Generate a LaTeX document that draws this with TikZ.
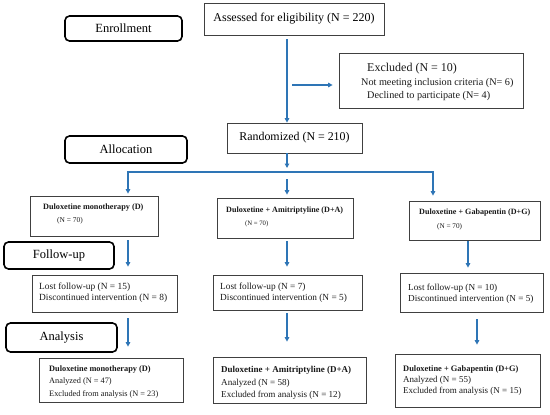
\documentclass[tikz,border=0pt]{standalone}
\usepackage{fontspec}
\setmainfont{Liberation Serif}
\usetikzlibrary{arrows.meta}
\definecolor{flowblue}{RGB}{46,117,182}
\newcommand{\fsz}[1]{\fontsize{#1}{#1}\selectfont}
\begin{document}
\begin{tikzpicture}[x=1pt,y=-1pt,
  box/.style={draw=black!75, line width=0.7pt, inner sep=0pt},
  stage/.style={draw=black, line width=1.6pt, rounded corners=4.5pt, inner sep=0pt, font=\fsz{12.5}},
  flow/.style={draw=flowblue, line width=1.5pt, -{Triangle[length=4.5pt,width=4.5pt]}},
  txt/.style={inner sep=0pt, anchor=west, align=left, text=black!90}
]
\useasboundingbox (0,0) rectangle (550,415);

% columns
\coordinate (cD) at (128,0);
\coordinate (cM) at (287,0);
\coordinate (cG1) at (468,0);
\coordinate (cG2) at (477,0);
\coordinate (brL) at (128,172);
\coordinate (brM) at (287,172);
\coordinate (brR) at (433,172);
\coordinate (exsrc) at (292,85);

% stage labels
\node[stage, minimum width=117pt, minimum height=25pt] (enr) at (123.5,28.5) {Enrollment};
\node[stage, minimum width=122pt, minimum height=27pt] (alloc) at (126,149.5) {Allocation};
\node[stage, minimum width=110pt, minimum height=27pt] (fup) at (59,255.5) {Follow-up};
\node[stage, minimum width=111pt, minimum height=29pt] (ana) at (61.5,337.5) {Analysis};

% top boxes
\node[box, minimum width=180pt, minimum height=32pt, font=\fsz{12}] (assess) at (294,19) {Assessed for eligibility (N = 220)};
\node[box, minimum width=184pt, minimum height=55pt] (exc) at (431,80.5) {};
\node[txt, font=\fsz{12}] (exc1) at (367,69) {Excluded (N = 10)};
\node[txt, font=\fsz{10.2}] (exc2) at (361,83) {Not meeting inclusion criteria (N= 6)};
\node[txt, font=\fsz{10.2}] (exc3) at (367,96) {Declined to participate (N= 4)};
\node[box, minimum width=135pt, minimum height=30pt, font=\fsz{11.9}] (rand) at (294.5,138) {Randomized (N = 210)};

% group boxes
\node[box, minimum width=128pt, minimum height=40pt] (grpD) at (94,216) {};
\node[txt, font=\bfseries\fsz{8.2}] (grpD1) at (43,208) {Duloxetine monotherapy (D)};
\node[txt, font=\fsz{7.4}] (grpD2) at (57,221) {(N = 70)};
\node[box, minimum width=136pt, minimum height=40pt] (grpA) at (285,218) {};
\node[txt, font=\bfseries\fsz{8.1}] (grpA1) at (226,211) {Duloxetine + Amitriptyline (D+A)};
\node[txt, font=\fsz{6.7}] (grpA2) at (245,224) {(N = 70)};
\node[box, minimum width=131pt, minimum height=39pt] (grpG) at (474.5,220.5) {};
\node[txt, font=\bfseries\fsz{8.1}] (grpG1) at (419,213) {Duloxetine + Gabapentin (D+G)};
\node[txt, font=\fsz{7.2}] (grpG2) at (437,227) {(N = 70)};

% follow-up boxes
\node[box, minimum width=145pt, minimum height=37pt] (lostD) at (104.5,293.5) {};
\node[txt, font=\fsz{9.4}] (lostD1) at (39,287) {Lost follow-up (N = 15)};
\node[txt, font=\fsz{9.4}] (lostD2) at (39,298) {Discontinued intervention (N = 8)};
\node[box, minimum width=149pt, minimum height=35pt] (lostA) at (287.5,292.5) {};
\node[txt, font=\fsz{9.3}] (lostA1) at (220,287) {Lost follow-up (N = 7)};
\node[txt, font=\fsz{9.3}] (lostA2) at (220,298) {Discontinued intervention (N = 5)};
\node[box, minimum width=143pt, minimum height=39pt] (lostG) at (471.5,292.5) {};
\node[txt, font=\fsz{9.2}] (lostG1) at (408,288) {Lost follow-up (N = 10)};
\node[txt, font=\fsz{9.2}] (lostG2) at (408,299) {Discontinued intervention (N = 5)};

% analysis boxes
\node[box, minimum width=144pt, minimum height=44pt] (anaD) at (111,380) {};
\node[txt, font=\bfseries\fsz{8.3}] (anaD1) at (49,370) {Duloxetine monotherapy (D)};
\node[txt, font=\fsz{8.3}] (anaD2) at (49,382) {Analyzed (N = 47)};
\node[txt, font=\fsz{8.3}] (anaD3) at (49,394) {Excluded from analysis (N = 23)};
\node[box, minimum width=153pt, minimum height=46pt] (anaA) at (289.5,380) {};
\node[txt, font=\bfseries\fsz{9}] (anaA1) at (221,370) {Duloxetine + Amitriptyline (D+A)};
\node[txt, font=\fsz{9.1}] (anaA2) at (221,383) {Analyzed (N = 58)};
\node[txt, font=\fsz{9.1}] (anaA3) at (221,395) {Excluded from analysis (N = 12)};
\node[box, minimum width=145pt, minimum height=53pt] (anaG) at (467.5,380.5) {};
\node[txt, font=\bfseries\fsz{8.4}] (anaG1) at (403,369) {Duloxetine + Gabapentin (D+G)};
\node[txt, font=\fsz{9}] (anaG2) at (403,380) {Analyzed (N = 55)};
\node[txt, font=\fsz{9}] (anaG3) at (403,391) {Excluded from analysis (N = 15)};

% connectors
\draw[flow, shorten <=4pt] (assess.south -| cM) -- (rand.north -| cM);
\draw[flow, shorten >=6pt] (exsrc) -- (exsrc -| exc.west);
\draw[flow, shorten >=4pt] (rand.south -| cM) -- (brM);
\draw[flow, shorten >=2pt] (brM) -- (brL) -- (grpD.north -| brL);
\draw[flow, shorten >=5pt] (brM) -- (brR) -- (grpG.north -| brR);
\draw[flow, shorten <=7pt, shorten >=3pt] (brM) -- (grpA.north -| cM);

\draw[flow, shorten <=4pt, shorten >=8pt] (grpD.south -| cD) -- (lostD.north -| cD);
\draw[flow, shorten <=6pt, shorten >=11pt] (lostD.south -| cD) -- (anaD.north -| cD);
\draw[flow, shorten <=3pt, shorten >=8pt] (grpA.south -| cM) -- (lostA.north -| cM);
\draw[flow, shorten <=3pt, shorten >=15pt] (lostA.south -| cM) -- (anaA.north -| cM);
\draw[flow, shorten <=1pt, shorten >=5pt] (grpG.south -| cG1) -- (lostG.north -| cG1);
\draw[flow, shorten <=7pt, shorten >=9pt] (lostG.south -| cG2) -- (anaG.north -| cG2);
\end{tikzpicture}
\end{document}
